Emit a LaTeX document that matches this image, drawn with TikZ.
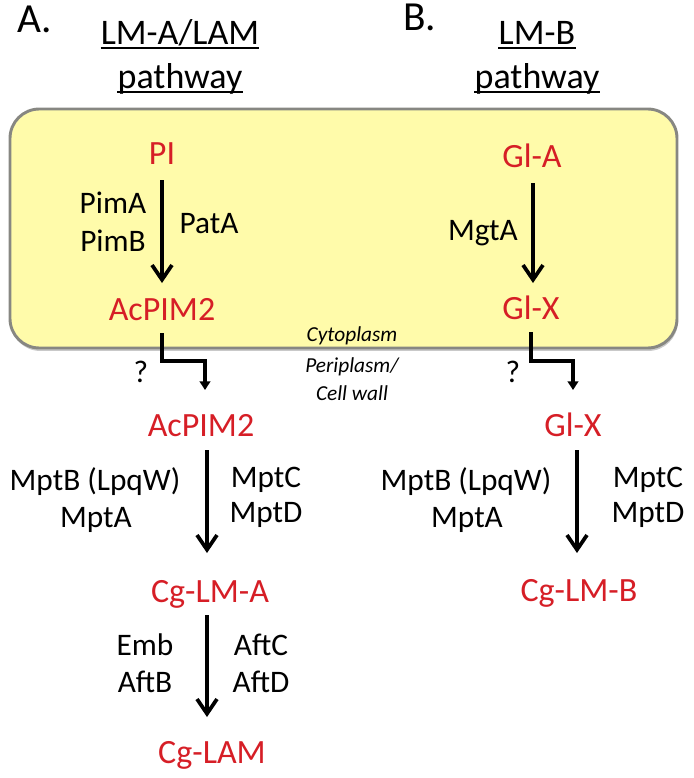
\documentclass[tikz,border=0pt]{standalone}
\usepackage{fontspec}
\setmainfont{Carlito}
\usetikzlibrary{arrows.meta,calc,shadows}
\definecolor{molred}{RGB}{214,30,38}
\definecolor{cellfill}{RGB}{255,251,170}
\definecolor{cellline}{RGB}{135,135,130}
\tikzset{
  redtxt/.style={anchor=base, inner sep=0pt, text=molred, font=\fontsize{25.5}{30}\selectfont},
  enztxt/.style={anchor=base, inner sep=0pt, text=black, font=\fontsize{23.5}{28}\selectfont},
  comptxt/.style={anchor=base, inner sep=0pt, text=black, font=\itshape\fontsize{16}{19}\selectfont},
  titletxt/.style={anchor=base, inner sep=0pt, font=\fontsize{27}{32}\selectfont},
  paneltxt/.style={anchor=base west, inner sep=0pt, font=\fontsize{31}{36}\selectfont},
  ulline/.style={line width=1.4pt},
  bigarr/.style={line width=2.8pt, -{Straight Barb[length=11pt,width=15pt,line width=2.8pt]}},
  steparr/.style={line width=2.3pt, -{Triangle[length=6.5pt,width=8pt]}},
  cellbox/.style={draw=cellline, line width=2.2pt, fill=cellfill, rounded corners=22pt,
    drop shadow={shadow xshift=0.6pt, shadow yshift=-2.2pt, opacity=0.3, fill=black!70}}
}
\begin{document}
\begin{tikzpicture}[x=0.75pt,y=-0.75pt]
\useasboundingbox (0,0) rectangle (693,778);

% cytoplasm box
\coordinate (boxnw) at (10,109);
\coordinate (boxse) at (677,348);
\path[cellbox] (boxnw) rectangle (boxse);

% panel labels and titles
\node[paneltxt] (pa) at (17,32) {A.};
\node[paneltxt] (pb) at (403,30) {B.};
\node[titletxt] (ta1) at (180,44) {LM-A/LAM};
\node[titletxt] (ta2) at (180,88) {pathway};
\node[titletxt] (tb1) at (537,44) {LM-B};
\node[titletxt] (tb2) at (537,88) {pathway};
\foreach \t in {ta1,ta2,tb1,tb2}{
  \draw[ulline] ($(\t.base west)+(0,4)$) -- ($(\t.base east)+(0,4)$);
}

% cytoplasm contents
\node[redtxt] (PI) at (162,164) {PI};
\node[redtxt] (acpimup) at (162,320) {AcPIM2};
\node[redtxt] (gla) at (532,167) {Gl-A};
\node[redtxt] (glxup) at (531,319) {Gl-X};
\node[enztxt] (pima) at (113,213) {PimA};
\node[enztxt] (pimb) at (113,251) {PimB};
\node[enztxt] (pata) at (209,233) {PatA};
\node[enztxt] (mgta) at (483,240) {MgtA};

\draw[bigarr] ($(PI.base)+(0,16)$) -- ($(acpimup.base)+(0,-37)$);
\draw[bigarr] ($(gla.base)+(1,16)$) -- ($(glxup.base)+(2,-36)$);

% compartments
\node[comptxt] (cyto) at (352,341) {Cytoplasm};
\node[comptxt] (peri) at (352,372) {Periplasm/};
\node[comptxt] (cw) at (352,400) {Cell wall};

% periplasm contents
\node[redtxt] (acpimlo) at (201,436) {AcPIM2};
\node[redtxt] (glxlo) at (573,436) {Gl-X};
\node[enztxt] (qa) at (141,382) {?};
\node[enztxt] (qb) at (513,382) {?};

\draw[steparr] ($(acpimup.base)+(0,13)$) |- ($(acpimlo.base)+(4,-75)$) -- ($(acpimlo.base)+(4,-46)$);
\draw[steparr] ($(glxup.base)+(0,13)$) |- ($(glxlo.base)+(0,-75)$) -- ($(glxlo.base)+(0,-46)$);

\node[redtxt] (cglma) at (210,602) {Cg-LM-A};
\node[redtxt] (cglmb) at (579,601) {Cg-LM-B};
\node[redtxt] (cglam) at (212,763) {Cg-LAM};

\node[enztxt] (mptbl) at (95,490) {MptB (LpqW)};
\node[enztxt] (mptal) at (96,527) {MptA};
\node[enztxt] (mptcl) at (266,487) {MptC};
\node[enztxt] (mptdl) at (266,522) {MptD};
\node[enztxt] (mptbr) at (466,490) {MptB (LpqW)};
\node[enztxt] (mptar) at (467,527) {MptA};
\node[enztxt] (mptcr) at (648,487) {MptC};
\node[enztxt] (mptdr) at (648,522) {MptD};
\node[enztxt] (emb) at (145,655) {Emb};
\node[enztxt] (aftb) at (145,692) {AftB};
\node[enztxt] (aftc) at (261,655) {AftC};
\node[enztxt] (aftd) at (261,692) {AftD};

\draw[bigarr] ($(acpimlo.base)+(6,14)$) -- ($(cglma.base)+(-3,-49)$);
\draw[bigarr] ($(glxlo.base)+(4,14)$) -- ($(cglmb.base)+(-2,-48)$);
\draw[bigarr] ($(cglma.base)+(-3,13)$) -- ($(cglam.base)+(-5,-46)$);
\end{tikzpicture}
\end{document}
